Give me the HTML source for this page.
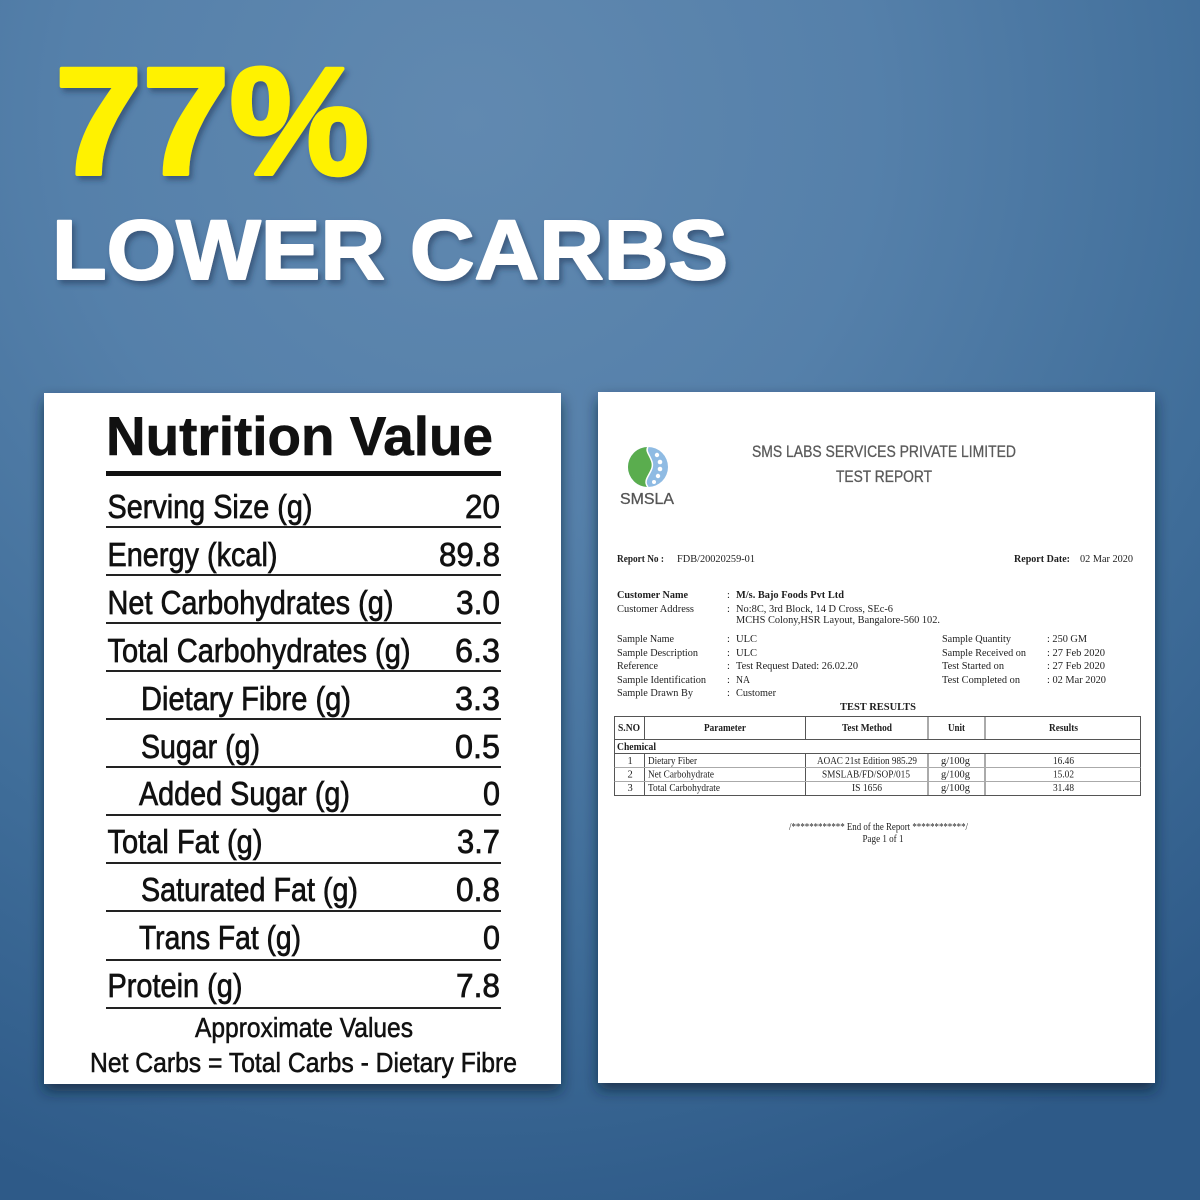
<!DOCTYPE html>
<html>
<head>
<meta charset="utf-8">
<style>
html,body{margin:0;padding:0;width:1200px;height:1200px;overflow:hidden;background:#3f6d99;}
svg{display:block;}
.ns{font-family:"Liberation Sans",sans-serif;}
.nv{font-family:"Liberation Sans",sans-serif;font-size:33px;fill:#111;stroke:#111;stroke-width:0.7px;}
.rp{font-family:"Liberation Serif",serif;font-size:10.5px;fill:#1e1e1e;}
.rb{font-family:"Liberation Serif",serif;font-size:10.5px;fill:#1e1e1e;font-weight:bold;}
</style>
</head>
<body>
<svg width="1200" height="1200" viewBox="0 0 1200 1200" xmlns="http://www.w3.org/2000/svg">
<defs>
<radialGradient id="bg" gradientUnits="userSpaceOnUse" cx="470" cy="120" r="1150">
<stop offset="0" stop-color="#6189b0"/>
<stop offset="0.35" stop-color="#5580aa"/>
<stop offset="0.7" stop-color="#3f6d99"/>
<stop offset="1" stop-color="#2e5a88"/>
</radialGradient>
<filter id="ts" x="-10%" y="-10%" width="130%" height="140%">
<feDropShadow dx="3" dy="4" stdDeviation="3" flood-color="#1a3656" flood-opacity="0.55"/>
</filter>
<filter id="ps" x="-10%" y="-10%" width="120%" height="125%">
<feDropShadow dx="0" dy="7" stdDeviation="7" flood-color="#0d2036" flood-opacity="0.7"/>
</filter>
</defs>
<rect x="0" y="0" width="1200" height="1200" fill="url(#bg)"/>

<!-- Headline -->
<g filter="url(#ts)">
<text x="55" y="174" class="ns" font-size="153" font-weight="bold" fill="#fff200" stroke="#fff200" stroke-width="4" stroke-linejoin="round" textLength="314" lengthAdjust="spacingAndGlyphs">77%</text>
<text x="52" y="279" class="ns" font-size="84" font-weight="bold" fill="#ffffff" stroke="#ffffff" stroke-width="2" stroke-linejoin="round" textLength="676" lengthAdjust="spacingAndGlyphs">LOWER CARBS</text>
</g>

<!-- Panels -->
<rect x="44" y="393" width="517" height="691" fill="#ffffff" filter="url(#ps)"/>
<rect x="598" y="392" width="557" height="691" fill="#ffffff" filter="url(#ps)"/>

<!-- Nutrition Value -->
<text x="106" y="455" class="ns" font-size="55" font-weight="bold" fill="#111" stroke="#111" stroke-width="0.6" textLength="387" lengthAdjust="spacingAndGlyphs">Nutrition Value</text>
<rect x="106" y="471" width="395" height="5" fill="#111"/>

<g fill="#222">
<rect x="106" y="526" width="395" height="2"/>
<rect x="106" y="574" width="395" height="2"/>
<rect x="106" y="622" width="395" height="2"/>
<rect x="106" y="670" width="395" height="2"/>
<rect x="106" y="718" width="395" height="2"/>
<rect x="106" y="766" width="395" height="2"/>
<rect x="106" y="814" width="395" height="2"/>
<rect x="106" y="862" width="395" height="2"/>
<rect x="106" y="910" width="395" height="2"/>
<rect x="106" y="959" width="395" height="2"/>
<rect x="106" y="1007" width="395" height="2"/>
</g>

<text class="nv" x="107.5" y="518" textLength="205" lengthAdjust="spacingAndGlyphs">Serving Size (g)</text>
<text class="nv" x="465" y="518" textLength="35" lengthAdjust="spacingAndGlyphs">20</text>

<text class="nv" x="107.5" y="566" textLength="170" lengthAdjust="spacingAndGlyphs">Energy (kcal)</text>
<text class="nv" x="439" y="566" textLength="61" lengthAdjust="spacingAndGlyphs">89.8</text>

<text class="nv" x="107.5" y="614" textLength="286" lengthAdjust="spacingAndGlyphs">Net Carbohydrates (g)</text>
<text class="nv" x="456" y="614" textLength="44" lengthAdjust="spacingAndGlyphs">3.0</text>

<text class="nv" x="107.5" y="662" textLength="303" lengthAdjust="spacingAndGlyphs">Total Carbohydrates (g)</text>
<text class="nv" x="455" y="662" textLength="45" lengthAdjust="spacingAndGlyphs">6.3</text>

<text class="nv" x="141" y="710" textLength="210" lengthAdjust="spacingAndGlyphs">Dietary Fibre (g)</text>
<text class="nv" x="455" y="710" textLength="45" lengthAdjust="spacingAndGlyphs">3.3</text>

<text class="nv" x="141" y="758" textLength="119" lengthAdjust="spacingAndGlyphs">Sugar (g)</text>
<text class="nv" x="455" y="758" textLength="45" lengthAdjust="spacingAndGlyphs">0.5</text>

<text class="nv" x="139" y="805" textLength="211" lengthAdjust="spacingAndGlyphs">Added Sugar (g)</text>
<text class="nv" x="483" y="805" textLength="17" lengthAdjust="spacingAndGlyphs">0</text>

<text class="nv" x="107.5" y="853" textLength="155" lengthAdjust="spacingAndGlyphs">Total Fat (g)</text>
<text class="nv" x="457" y="853" textLength="43" lengthAdjust="spacingAndGlyphs">3.7</text>

<text class="nv" x="141" y="901" textLength="217" lengthAdjust="spacingAndGlyphs">Saturated Fat (g)</text>
<text class="nv" x="456" y="901" textLength="44" lengthAdjust="spacingAndGlyphs">0.8</text>

<text class="nv" x="139" y="949" textLength="162" lengthAdjust="spacingAndGlyphs">Trans Fat (g)</text>
<text class="nv" x="483" y="949" textLength="17" lengthAdjust="spacingAndGlyphs">0</text>

<text class="nv" x="107.5" y="997" textLength="135" lengthAdjust="spacingAndGlyphs">Protein (g)</text>
<text class="nv" x="456" y="997" textLength="44" lengthAdjust="spacingAndGlyphs">7.8</text>

<text class="nv" style="font-size:27.5px;stroke-width:0.55px" x="195" y="1037" textLength="218" lengthAdjust="spacingAndGlyphs">Approximate Values</text>
<text class="nv" style="font-size:27.5px;stroke-width:0.55px" x="90" y="1072" textLength="427" lengthAdjust="spacingAndGlyphs">Net Carbs = Total Carbs - Dietary Fibre</text>

<!-- Report -->
<circle cx="648" cy="467" r="20" fill="#8fbbe3"/>
<path d="M648,447 A20,20 0 0 0 648,487 C641,479 655,472 652,462 C650,455 645,451 648,447 Z" fill="#5aad4e"/>
<path d="M648,447 C645,451 650,455 652,462 C655,472 641,479 648,487" fill="none" stroke="#ffffff" stroke-width="1.5"/>
<g fill="#ffffff">
<circle cx="657" cy="455" r="2.2"/>
<circle cx="660" cy="462" r="2.3"/>
<circle cx="660" cy="469" r="2.3"/>
<circle cx="658" cy="476" r="2.2"/>
<circle cx="654" cy="482" r="2"/>
</g>
<text x="620" y="504" class="ns" font-size="16" fill="#555" stroke="#555" stroke-width="0.3" textLength="54" lengthAdjust="spacingAndGlyphs">SMSLA</text>

<text x="752" y="457" class="ns" font-size="17" fill="#5a5a5a" stroke="#5a5a5a" stroke-width="0.3" textLength="264" lengthAdjust="spacingAndGlyphs">SMS LABS SERVICES PRIVATE LIMITED</text>
<text x="836" y="482" class="ns" font-size="16.5" fill="#5a5a5a" stroke="#5a5a5a" stroke-width="0.3" textLength="96" lengthAdjust="spacingAndGlyphs">TEST REPORT</text>

<text class="rb" x="617" y="562" textLength="47" lengthAdjust="spacingAndGlyphs">Report No :</text>
<text class="rp" x="677" y="562" textLength="78" lengthAdjust="spacingAndGlyphs">FDB/20020259-01</text>
<text class="rb" x="1014" y="562" textLength="56" lengthAdjust="spacingAndGlyphs">Report Date:</text>
<text class="rp" x="1080" y="562" textLength="53" lengthAdjust="spacingAndGlyphs">02 Mar 2020</text>

<text class="rb" x="617" y="598" textLength="71" lengthAdjust="spacingAndGlyphs">Customer Name</text>
<text class="rp" x="727" y="598">:</text>
<text class="rb" x="736" y="598" textLength="108" lengthAdjust="spacingAndGlyphs">M/s. Bajo Foods Pvt Ltd</text>

<text class="rp" x="617" y="612" textLength="77" lengthAdjust="spacingAndGlyphs">Customer Address</text>
<text class="rp" x="727" y="612">:</text>
<text class="rp" x="736" y="612" textLength="157" lengthAdjust="spacingAndGlyphs">No:8C, 3rd Block, 14 D Cross, SEc-6</text>
<text class="rp" x="736" y="623" textLength="204" lengthAdjust="spacingAndGlyphs">MCHS Colony,HSR Layout, Bangalore-560 102.</text>

<text class="rp" x="617" y="642" textLength="57" lengthAdjust="spacingAndGlyphs">Sample Name</text>
<text class="rp" x="727" y="642">:</text>
<text class="rp" x="736" y="642" textLength="21" lengthAdjust="spacingAndGlyphs">ULC</text>
<text class="rp" x="942" y="642" textLength="69" lengthAdjust="spacingAndGlyphs">Sample Quantity</text>
<text class="rp" x="1047" y="642" textLength="40" lengthAdjust="spacingAndGlyphs">: 250 GM</text>

<text class="rp" x="617" y="656" textLength="81" lengthAdjust="spacingAndGlyphs">Sample Description</text>
<text class="rp" x="727" y="656">:</text>
<text class="rp" x="736" y="656" textLength="21" lengthAdjust="spacingAndGlyphs">ULC</text>
<text class="rp" x="942" y="656" textLength="84" lengthAdjust="spacingAndGlyphs">Sample Received on</text>
<text class="rp" x="1047" y="656" textLength="58" lengthAdjust="spacingAndGlyphs">: 27 Feb 2020</text>

<text class="rp" x="617" y="669" textLength="41" lengthAdjust="spacingAndGlyphs">Reference</text>
<text class="rp" x="727" y="669">:</text>
<text class="rp" x="736" y="669" textLength="122" lengthAdjust="spacingAndGlyphs">Test Request Dated: 26.02.20</text>
<text class="rp" x="942" y="669" textLength="62" lengthAdjust="spacingAndGlyphs">Test Started on</text>
<text class="rp" x="1047" y="669" textLength="58" lengthAdjust="spacingAndGlyphs">: 27 Feb 2020</text>

<text class="rp" x="617" y="683" textLength="89" lengthAdjust="spacingAndGlyphs">Sample Identification</text>
<text class="rp" x="727" y="683">:</text>
<text class="rp" x="736" y="683" textLength="14" lengthAdjust="spacingAndGlyphs">NA</text>
<text class="rp" x="942" y="683" textLength="78" lengthAdjust="spacingAndGlyphs">Test Completed on</text>
<text class="rp" x="1047" y="683" textLength="59" lengthAdjust="spacingAndGlyphs">: 02 Mar 2020</text>

<text class="rp" x="617" y="696" textLength="76" lengthAdjust="spacingAndGlyphs">Sample Drawn By</text>
<text class="rp" x="727" y="696">:</text>
<text class="rp" x="736" y="696" textLength="40" lengthAdjust="spacingAndGlyphs">Customer</text>

<text class="rb" x="840" y="710" textLength="76" lengthAdjust="spacingAndGlyphs">TEST RESULTS</text>

<!-- Table -->
<g stroke="#555" stroke-width="1" fill="none">
<rect x="614.5" y="716.5" width="526" height="79"/>
<line x1="614.5" y1="739.5" x2="1140.5" y2="739.5"/>
<line x1="614.5" y1="753.5" x2="1140.5" y2="753.5"/>
<line x1="644.5" y1="716.5" x2="644.5" y2="739.5"/>
<line x1="805.5" y1="716.5" x2="805.5" y2="739.5"/>
<line x1="928" y1="716.5" x2="928" y2="739.5"/>
<line x1="985" y1="716.5" x2="985" y2="739.5"/>
<line x1="644.5" y1="753.5" x2="644.5" y2="795.5"/>
<line x1="805.5" y1="753.5" x2="805.5" y2="795.5"/>
<line x1="928" y1="753.5" x2="928" y2="795.5"/>
<line x1="985" y1="753.5" x2="985" y2="795.5"/>
</g>
<g stroke="#aaa" stroke-width="1">
<line x1="614.5" y1="767.5" x2="1140.5" y2="767.5"/>
<line x1="614.5" y1="781.5" x2="1140.5" y2="781.5"/>
</g>

<text class="rb" x="618" y="731" textLength="22" lengthAdjust="spacingAndGlyphs">S.NO</text>
<text class="rb" x="704" y="731" textLength="42" lengthAdjust="spacingAndGlyphs">Parameter</text>
<text class="rb" x="842" y="731" textLength="50" lengthAdjust="spacingAndGlyphs">Test Method</text>
<text class="rb" x="948" y="731" textLength="17" lengthAdjust="spacingAndGlyphs">Unit</text>
<text class="rb" x="1049" y="731" textLength="29" lengthAdjust="spacingAndGlyphs">Results</text>

<text class="rb" x="617" y="750" textLength="39" lengthAdjust="spacingAndGlyphs">Chemical</text>

<text class="rp" x="627.5" y="764">1</text>
<text class="rp" x="648" y="764" textLength="49" lengthAdjust="spacingAndGlyphs">Dietary Fiber</text>
<text class="rp" x="817" y="764" textLength="100" lengthAdjust="spacingAndGlyphs">AOAC 21st Edition 985.29</text>
<text class="rp" x="941" y="764" textLength="29" lengthAdjust="spacingAndGlyphs">g/100g</text>
<text class="rp" x="1053" y="764" textLength="21" lengthAdjust="spacingAndGlyphs">16.46</text>

<text class="rp" x="627.5" y="777.5">2</text>
<text class="rp" x="648" y="777.5" textLength="66" lengthAdjust="spacingAndGlyphs">Net Carbohydrate</text>
<text class="rp" x="822" y="777.5" textLength="88" lengthAdjust="spacingAndGlyphs">SMSLAB/FD/SOP/015</text>
<text class="rp" x="941" y="777.5" textLength="29" lengthAdjust="spacingAndGlyphs">g/100g</text>
<text class="rp" x="1053" y="777.5" textLength="21" lengthAdjust="spacingAndGlyphs">15.02</text>

<text class="rp" x="627.5" y="791">3</text>
<text class="rp" x="648" y="791" textLength="72" lengthAdjust="spacingAndGlyphs">Total Carbohydrate</text>
<text class="rp" x="852" y="791" textLength="30" lengthAdjust="spacingAndGlyphs">IS 1656</text>
<text class="rp" x="941" y="791" textLength="29" lengthAdjust="spacingAndGlyphs">g/100g</text>
<text class="rp" x="1053" y="791" textLength="21" lengthAdjust="spacingAndGlyphs">31.48</text>

<text class="rp" x="789" y="830" textLength="179" lengthAdjust="spacingAndGlyphs">/************ End of the Report ************/</text>
<text class="rp" x="862.5" y="842" textLength="41" lengthAdjust="spacingAndGlyphs">Page 1 of 1</text>
</svg>
</body>
</html>
